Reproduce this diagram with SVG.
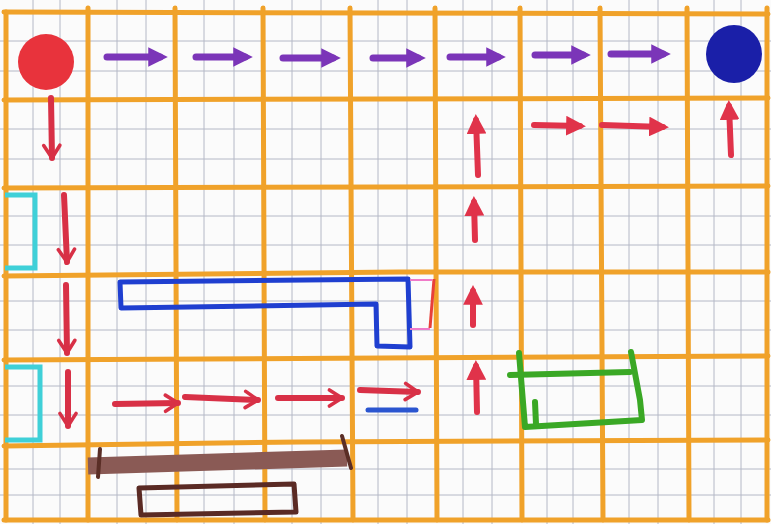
<svg xmlns="http://www.w3.org/2000/svg" width="771" height="524" viewBox="0 0 771 524">
<style>
.thin{stroke:#b4b8c6;stroke-width:1;fill:none}
.major{stroke:#f0a22a;stroke-width:5;fill:none;stroke-linecap:round}
.purple{stroke:#7b35b8;stroke-width:7;fill:none;stroke-linecap:round;marker-end:url(#hp)}
.red{stroke:#e0334a;stroke-width:6;fill:none;stroke-linecap:round;marker-end:url(#hr)}
.redv{stroke:#d83046;stroke-width:6;fill:none;stroke-linecap:round;marker-end:url(#hv)}
</style>
<defs>
<marker id="hp" viewBox="0 0 10 10" refX="6" refY="5" markerWidth="2.8" markerHeight="2.8" orient="auto">
<path d="M0,0 L10,5 L0,10 z" fill="#7b35b8"/>
</marker>
<marker id="hr" viewBox="0 0 10 10" refX="7" refY="5" markerWidth="3.3" markerHeight="3.3" orient="auto">
<path d="M0,0 L10,5 L0,10 z" fill="#e0334a"/>
</marker>
<marker id="hv" viewBox="0 0 12 12" refX="9" refY="6" markerWidth="3.6" markerHeight="3.6" orient="auto">
<path d="M2,1.5 L9,6 L2,10.5" fill="none" stroke="#d83046" stroke-width="2" stroke-linecap="round" stroke-linejoin="round"/>
</marker>
</defs>
<rect width="771" height="524" fill="#fbfbfb"/>
<g id="grid">
<g class="thin">
<path d="M33,0V524M60,0V524M117,0V524M146,0V524M204,0V524M234,0V524M292,0V524M321,0V524M378,0V524M407,0V524M463,0V524M492,0V524M547,0V524M573,0V524M629,0V524M658,0V524M714,0V524M741,0V524"/>
<path d="M0,41H771M0,71H771M0,129H771M0,159H771M0,216H771M0,245H771M0,301H771M0,330H771M0,386H771M0,415H771M0,469H771M0,495H771"/>
</g>
<g class="major">
<path d="M6,12V520"/>
<path d="M88,8V520"/>
<path d="M175,8L177,520"/>
<path d="M263,8L265,520"/>
<path d="M350,8L353,520"/>
<path d="M435,8L437,520"/>
<path d="M520,8L522,520"/>
<path d="M600,8L603,520"/>
<path d="M687,8L689,520"/>
<path d="M767,8V520"/>
<path d="M4,12L768,14"/>
<path d="M4,100L768,98"/>
<path d="M4,188L768,186"/>
<path d="M4,276L400,272L768,272"/>
<path d="M4,360L768,356"/>
<path d="M4,446L300,442L768,440"/>
<path d="M4,520H768"/>
</g>
</g>
<g id="start"><circle cx="46" cy="62" r="28" fill="#e8333c"/></g>
<g id="end"><ellipse cx="734" cy="54" rx="28" ry="29" fill="#1a1fa8"/></g>
<g id="connectors">
<path class="purple" d="M107,57H160"/>
<path class="purple" d="M196,57H245"/>
<path class="purple" d="M283,58H333"/>
<path class="purple" d="M373,58H418"/>
<path class="purple" d="M450,57H498"/>
<path class="purple" d="M535,55H583"/>
<path class="purple" d="M611,54H663"/>
<path class="redv" d="M51,98L52,158"/>
<path class="redv" d="M64,195L67,262"/>
<path class="redv" d="M66,285L67,353"/>
<path class="redv" d="M68,372L68,426"/>
<path class="redv" d="M115,404L178,403"/>
<path class="redv" d="M185,397L258,400"/>
<path class="redv" d="M278,398L342,398"/>
<path class="redv" d="M360,390L418,392"/>
<path class="red" d="M477,412L476,366"/>
<path class="red" d="M473,325L473,291"/>
<path class="red" d="M475,240L474,202"/>
<path class="red" d="M478,175L476,120"/>
<path class="red" d="M534,125L580,126"/>
<path class="red" d="M602,125L663,127"/>
<path class="red" d="M731,155L729,106"/>
<path d="M368,410H416" stroke="#2a55d0" stroke-width="5" stroke-linecap="round"/>
</g>
<g id="cyan-top"><path d="M5,195H35V268H5" fill="none" stroke="#3fd0d8" stroke-width="5"/></g>
<g id="cyan-bottom"><path d="M5,367H40V440H5" fill="none" stroke="#3fd0d8" stroke-width="5"/></g>
<g id="blue-shape"><path d="M120,282L408,279L410,347L377,346L376,304L121,308Z" fill="none" stroke="#1f3fd0" stroke-width="5" stroke-linejoin="round"/></g>
<g id="pink-mark">
<path d="M410,280H432M410,329H430" stroke="#f07ac8" stroke-width="2"/>
<path d="M434,279L430,328" stroke="#e8403a" stroke-width="3"/>
</g>
<g id="green-shape" fill="none" stroke="#3aa825" stroke-width="6" stroke-linecap="round" stroke-linejoin="round">
<path d="M510,375L630,372"/>
<path d="M519,353L525,427L642,420L640,400L631,352"/>
<path d="M535,402L536,424"/>
</g>
<g id="brown-bar">
<path d="M88,466L347,458" stroke="#8a5a55" stroke-width="17" stroke-linecap="butt"/>
<path d="M100,449L98,477M342,436L351,468" stroke="#5a2e26" stroke-width="4" stroke-linecap="round"/>
</g>
<g id="brown-box"><path d="M139,488L294,484L296,512L141,515Z" fill="none" stroke="#5a2a24" stroke-width="5" stroke-linejoin="round"/></g>
</svg>
